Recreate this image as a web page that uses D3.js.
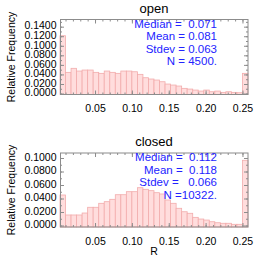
<!DOCTYPE html>
<html>
<head>
<meta charset="utf-8">
<script src="https://cdn.jsdelivr.net/npm/d3@7"></script>
<style>
  body { margin: 0; background: #fff; }
  svg { display: block; }
  text { font-family: "Liberation Sans", Arial, sans-serif; }
</style>
</head>
<body>
<div id="chart"></div>
<script>
// bin edges of R (34 bins, first and last hold the out-of-range counts)
var BIN_EDGES = [0.0025, 0.0100, 0.0175, 0.0250, 0.0325, 0.0400, 0.0475, 0.0550, 0.0625,
  0.0700, 0.0775, 0.0850, 0.0925, 0.1000, 0.1075, 0.1150, 0.1225, 0.1300, 0.1375,
  0.1450, 0.1525, 0.1600, 0.1675, 0.1750, 0.1825, 0.1900, 0.1975, 0.2050, 0.2125,
  0.2200, 0.2275, 0.2350, 0.2425, 0.2500, 0.2575];

var OPEN_FREQ = [0.1210, 0.0444, 0.0528, 0.0471, 0.0492, 0.0492, 0.0444, 0.0423, 0.0471,
  0.0444, 0.0423, 0.0471, 0.0471, 0.0456, 0.0402, 0.0331, 0.0304, 0.0283, 0.0247,
  0.0199, 0.0178, 0.0157, 0.0109, 0.0094, 0.0073, 0.0052, 0.0073, 0.0038, 0.0052,
  0.0025, 0.0038, 0.0025, 0.0017, 0.0423];

var CLOSED_FREQ = [0.0452, 0.0156, 0.0156, 0.0156, 0.0185, 0.0270, 0.0270, 0.0329, 0.0353,
  0.0388, 0.0456, 0.0456, 0.0501, 0.0501, 0.0560, 0.0536, 0.0516, 0.0486, 0.0467,
  0.0378, 0.0329, 0.0255, 0.0204, 0.0181, 0.0121, 0.0096, 0.0081, 0.0056, 0.0041,
  0.0033, 0.0033, 0.0018, 0.0018, 0.0966];

var X_TICKS = [0.05, 0.10, 0.15, 0.20, 0.25];
var OPEN_Y_TICKS = [0, 0.02, 0.04, 0.06, 0.08, 0.10, 0.12, 0.14];
var CLOSED_Y_TICKS = [0, 0.02, 0.04, 0.06, 0.08, 0.10];

// spaces are kept as in the original fixed-width fields
var OPEN_STATS = ['Median =  0.071', 'Mean = 0.081', 'Stdev = 0.063', 'N = 4500.'];
var CLOSED_STATS = ['Median =  0.112', 'Mean =  0.118', 'Stdev =   0.066', 'N =10322.'];

var WIDTH = 266, HEIGHT = 266;
var AXIS_COLOR = '#8c8c8c';

var svg = d3.select('#chart')
  .append('svg')
    .attr('width', WIDTH)
    .attr('height', HEIGHT);

drawPanel({
  title: 'open', top: 19.5, height: 75,
  yDomain: [-0.002, 0.155], yTicks: OPEN_Y_TICKS,
  freq: OPEN_FREQ, stats: OPEN_STATS, xTitle: false
});
drawPanel({
  title: 'closed', top: 153, height: 74,
  yDomain: [-0.0022, 0.1074], yTicks: CLOSED_Y_TICKS,
  freq: CLOSED_FREQ, stats: CLOSED_STATS, xTitle: true
});

function minorTicks(domain, step) {
  var out = [];
  var start = Math.ceil(domain[0] / step - 1e-9);
  for (var i = start; i * step <= domain[1] + 1e-9; i++) out.push(+(i * step).toFixed(6));
  return out;
}

function drawPanel(p) {
  var left = 60, w = 188, h = p.height;

  var x = d3.scaleLinear().domain([BIN_EDGES[0], BIN_EDGES[BIN_EDGES.length - 1]]).range([0, w]);
  var y = d3.scaleLinear().domain(p.yDomain).range([h, 0]);

  var g = svg.append('g')
    .attr('transform', 'translate(' + left + ',' + p.top + ')');

  // bars
  var bins = p.freq.map(function (f, i) {
    return { x0: BIN_EDGES[i], x1: BIN_EDGES[i + 1], f: f };
  });
  g.selectAll('rect.bar')
    .data(bins)
    .enter().append('rect')
      .attr('class', 'bar')
      .attr('x', function (d) { return x(d.x0); })
      .attr('width', function (d) { return x(d.x1) - x(d.x0); })
      .attr('y', function (d) { return y(d.f); })
      .attr('height', function (d) { return h - y(d.f); })
      .attr('fill', '#ffdddd')
      .attr('stroke', '#f2acac')
      .attr('stroke-width', 0.8);

  // major / minor ticks on all four sides, pointing inwards
  var xMinor = minorTicks(x.domain(), 0.01);
  var yMinor = minorTicks([Math.max(0, p.yDomain[0]), p.yDomain[1]], 0.01);

  g.append('g')
    .attr('transform', 'translate(0,' + h + ')')
    .call(d3.axisBottom(x).tickValues(X_TICKS).tickSize(-4).tickSizeOuter(0)
      .tickPadding(10.5).tickFormat(d3.format('.2f')));
  g.append('g')
    .attr('transform', 'translate(0,' + h + ')')
    .call(d3.axisBottom(x).tickValues(xMinor).tickSize(-2).tickSizeOuter(0).tickFormat(''));
  g.append('g')
    .call(d3.axisTop(x).tickValues(X_TICKS).tickSize(-4).tickSizeOuter(0).tickFormat(''));
  g.append('g')
    .call(d3.axisTop(x).tickValues(xMinor).tickSize(-2).tickSizeOuter(0).tickFormat(''));

  var leftAxis = g.append('g')
    .call(d3.axisLeft(y).tickValues(p.yTicks).tickSize(-4).tickSizeOuter(0)
      .tickPadding(3.5).tickFormat(d3.format('.4f')));
  g.append('g')
    .call(d3.axisLeft(y).tickValues(yMinor).tickSize(-2).tickSizeOuter(0).tickFormat(''));
  g.append('g')
    .attr('transform', 'translate(' + w + ',0)')
    .call(d3.axisRight(y).tickValues(p.yTicks).tickSize(-4).tickSizeOuter(0).tickFormat(''));
  g.append('g')
    .attr('transform', 'translate(' + w + ',0)')
    .call(d3.axisRight(y).tickValues(yMinor).tickSize(-2).tickSizeOuter(0).tickFormat(''));

  g.selectAll('.domain').remove();
  g.selectAll('.tick line').attr('stroke', AXIS_COLOR);
  g.selectAll('.tick text')
    .attr('fill', '#000')
    .style('font-size', '10.5px');
  leftAxis.selectAll('.tick text').attr('dy', '0.22em');

  // frame
  g.append('rect')
    .attr('x', 0.5).attr('y', 0)
    .attr('width', w - 0.5).attr('height', h)
    .attr('fill', 'none')
    .attr('stroke', AXIS_COLOR)
    .attr('stroke-width', 1);

  // title
  g.append('text')
    .attr('x', w / 2).attr('y', -6.7)
    .attr('text-anchor', 'middle')
    .style('font-size', '13px')
    .text(p.title);

  // stats, right aligned
  g.selectAll('text.stat')
    .data(p.stats)
    .enter().append('text')
      .attr('class', 'stat')
      .attr('x', 157)
      .attr('y', function (d, i) { return 8.3 + i * 12.5; })
      .attr('text-anchor', 'end')
      .attr('fill', '#2323ff')
      .style('font-size', '11.5px')
      .text(function (d) { return d.replace(/ /g, '\u00a0'); });

  // y title
  g.append('text')
    .attr('transform', 'translate(' + (14.5 - left) + ',' + (h / 2) + ') rotate(-90)')
    .attr('text-anchor', 'middle')
    .style('font-size', '10.5px')
    .text('Relative Frequency');

  if (p.xTitle) {
    g.append('text')
      .attr('x', w / 2).attr('y', h + 28)
      .attr('text-anchor', 'middle')
      .style('font-size', '10.5px')
      .text('R');
  }
}
</script>
</body>
</html>
